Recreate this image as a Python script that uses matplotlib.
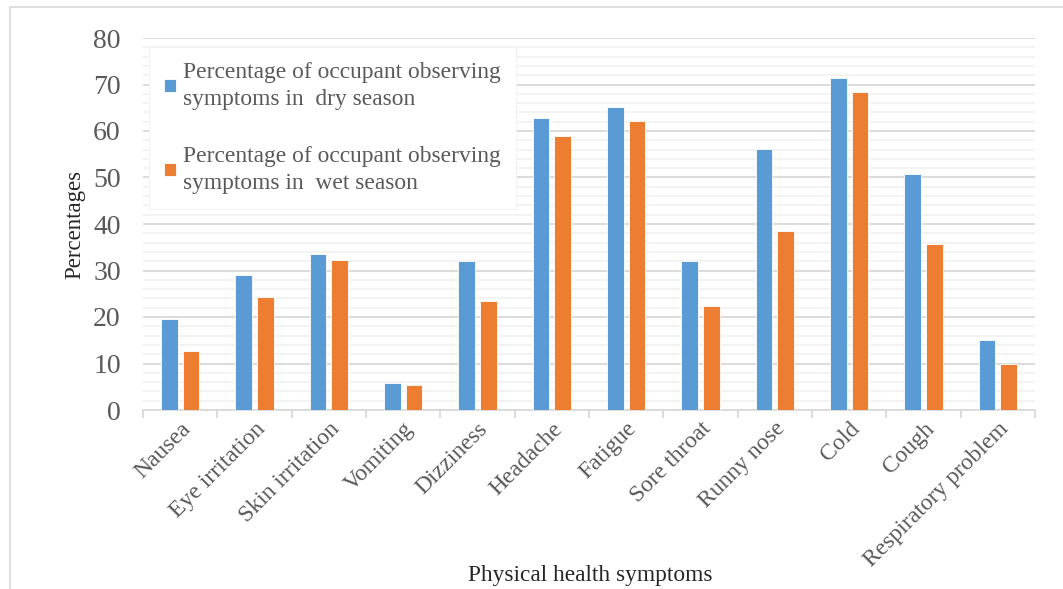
import matplotlib
matplotlib.use("Agg")
import matplotlib.pyplot as plt
import numpy as np
from matplotlib.patches import Rectangle
from matplotlib.ticker import MultipleLocator, FixedLocator

categories = ["Nausea", "Eye irritation", "Skin irritation", "Vomiting", "Dizziness",
              "Headache", "Fatigue", "Sore throat", "Runny nose", "Cold", "Cough",
              "Respiratory problem"]
dry_season = [19.5, 29.0, 33.5, 5.9, 32.0, 62.7, 65.1, 32.0, 56.1, 71.5, 50.8, 15.0]
wet_season = [12.7, 24.4, 32.2, 5.4, 23.4, 58.9, 62.1, 22.4, 38.6, 68.3, 35.6, 10.0]
series_labels = ["Percentage of occupant observing\nsymptoms in  dry season",
                 "Percentage of occupant observing\nsymptoms in  wet season"]
y_ticks = [0, 10, 20, 30, 40, 50, 60, 70, 80]

BLUE = "#5B9BD5"
ORANGE = "#ED7D31"
TXT = "#595959"
FONT = "Liberation Serif"
plt.rcParams["font.family"] = FONT

W, H = 1063, 589
fig = plt.figure(figsize=(W / 100, H / 100), dpi=100)
fig.patches.append(Rectangle((10 / W, -0.1), 1.1, 1.1 - 7 / H, transform=fig.transFigure,
                             fill=False, edgecolor="#D9D9D9", linewidth=1.2, zorder=0))

ax = fig.add_axes([143 / W, 1 - 410 / H, (1035 - 143) / W, (410 - 38) / H])
x = np.arange(len(categories))
bw = 0.225
off = 0.144
ax.bar(x - off, dry_season, bw, color=BLUE, edgecolor="white", linewidth=0.6,
       label=series_labels[0], zorder=3)
ax.bar(x + off, wet_season, bw, color=ORANGE, edgecolor="white", linewidth=0.6,
       label=series_labels[1], zorder=3)

ax.set_xlim(-0.5, len(categories) - 0.5)
ax.set_ylim(0, 80)
ax.yaxis.set_major_locator(FixedLocator(y_ticks))
ax.yaxis.set_minor_locator(MultipleLocator(2))
ax.grid(axis="y", which="major", color="#D9D9D9", linewidth=1.3, zorder=0)
ax.grid(axis="y", which="minor", color="#F2F2F2", linewidth=1.3, zorder=0)
ax.set_axisbelow(True)

for s in ["top", "right", "left"]:
    ax.spines[s].set_visible(False)
ax.spines["bottom"].set_color("#D9D9D9")
ax.spines["bottom"].set_linewidth(1.3)

ax.set_xticks(x)
ax.set_xticklabels(categories, rotation=45, ha="right", rotation_mode="anchor",
                   fontsize=17, color=TXT)
ax.tick_params(axis="x", which="major", length=0, pad=6)
ax.xaxis.set_minor_locator(FixedLocator(np.arange(-0.5, len(categories), 1.0)))
ax.tick_params(axis="x", which="minor", length=6, width=1.3, color="#D9D9D9")
ax.tick_params(axis="y", which="both", length=0, labelsize=20, labelcolor=TXT, pad=16)

ax.set_ylabel("Percentages", fontsize=16.5, color="#262626", labelpad=6)
fig.text(590 / W, 1 - 575 / H, "Physical health symptoms", fontsize=16.8, color="#262626",
         ha="center", va="center")

leg = ax.legend(loc="upper left", bbox_to_anchor=(6 / 892, 1 - 9 / 372), fontsize=16.9,
                frameon=True, fancybox=False, framealpha=1, edgecolor="#F2F2F2",
                handlelength=0.5, handleheight=0.5, handletextpad=0.3,
                labelspacing=1.55, borderpad=0.65, borderaxespad=0)
for t in leg.get_texts():
    t.set_color(TXT)
    t.set_linespacing(1.35)
leg.get_frame().set_linewidth(0.8)
leg.set_zorder(5)

fig.savefig("out.png", dpi=100)
